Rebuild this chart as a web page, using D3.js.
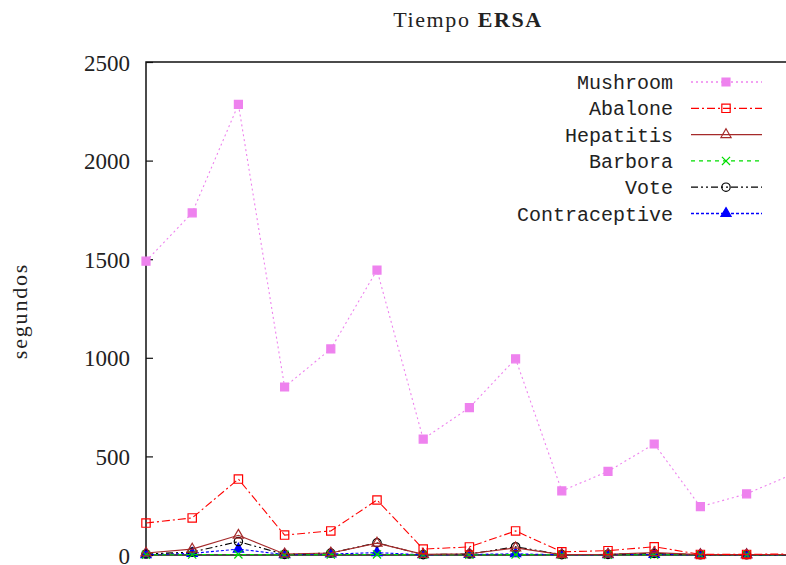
<!DOCTYPE html>
<html>
<head>
<meta charset="utf-8">
<script src="https://cdn.jsdelivr.net/npm/d3@7"></script>
<style>
  body { margin: 0; background: #fff; }
  svg { display: block; }
  .tick-label { font-family: "Liberation Serif", serif; font-size: 23px; fill: #222; }
  .legend-label { font-family: "Liberation Mono", monospace; font-size: 20px; fill: #222; }
</style>
</head>
<body>
<div id="chart"></div>
<script>
var series = ["Mushroom", "Abalone", "Hepatitis", "Barbora", "Vote", "Contraceptive"];
var yTicks = [0, 500, 1000, 1500, 2000, 2500];

var mushroom      = [1490, 1735, 2285, 852, 1045, 1445, 588, 747, 995, 325, 424, 563, 245, 310, 410];
var abalone       = [162, 188, 385, 101, 122, 279, 30, 41, 122, 16, 22, 42, 3, 3, 6];
var hepatitis     = [10, 30, 100, 5, 10, 60, 3, 6, 36, 2, 4, 12, 2, 2, 3];
var barbora       = [1, 2, 3, 1, 2, 3, 1, 1, 2, 1, 1, 1, 1, 1, 1];
var vote          = [5, 15, 68, 3, 10, 62, 2, 5, 42, 2, 3, 8, 1, 1, 2];
var contraceptive = [2, 8, 30, 2, 5, 12, 1, 3, 6, 1, 2, 3, 1, 1, 1];

var values = [mushroom, abalone, hepatitis, barbora, vote, contraceptive];

var styles = [
  { color: "#ee82ee", dash: "2,3",          symbol: d3.symbolSquare,   size: 64, fill: true },
  { color: "#ff0000", dash: "8,3,2,3",      symbol: d3.symbolSquare,   size: 70, fill: false },
  { color: "#a52a2a", dash: null,           symbol: d3.symbolTriangle, size: 45, fill: false },
  { color: "#00dd00", dash: "4,4",          symbol: d3.symbolTimes,    size: 45, fill: false },
  { color: "#000000", dash: "7,3,2,3,2,3",  symbol: d3.symbolCircle,   size: 55, fill: false },
  { color: "#0000ff", dash: "3,2",          symbol: d3.symbolTriangle, size: 45, fill: true }
];

var fullwidth = 786;
var fullheight = 565;

var svg = d3.select("#chart")
  .append("svg")
  .attr("width", fullwidth)
  .attr("height", fullheight);

var xScale = d3.scaleLinear()
  .domain([0, mushroom.length - 1])
  .range([146, 146 + 46.2 * (mushroom.length - 1)]);

var yScale = d3.scaleLinear()
  .domain([0, 2500])
  .range([555, 62]);

// frame
var plotRight = xScale(mushroom.length - 1) + 30;
svg.append("rect")
  .attr("x", 146).attr("y", 62)
  .attr("width", plotRight - 146).attr("height", 555 - 62)
  .attr("fill", "none")
  .attr("stroke", "#111")
  .attr("stroke-width", 1.5);

// y axis ticks inward
var yAxis = d3.axisLeft(yScale)
  .tickValues(yTicks)
  .tickSize(-7)
  .tickPadding(16)
  .tickFormat(d3.format("d"));

var gy = svg.append("g")
  .attr("transform", "translate(146,0)")
  .call(yAxis);
gy.select(".domain").remove();
gy.selectAll("line").attr("stroke", "#111").attr("stroke-width", 1.2);
gy.selectAll("text")
  .attr("class", "tick-label")
  .attr("dy", "0.35em");

// title
var title = svg.append("text")
  .attr("x", 468)
  .attr("y", 27)
  .attr("text-anchor", "middle")
  .style("font-family", "'Liberation Serif', serif")
  .style("font-size", "22px")
  .style("letter-spacing", "1.6px")
  .style("fill", "#222");
title.append("tspan").text("Tiempo ");
title.append("tspan").attr("font-weight", "bold").text("ERSA");

// y label
svg.append("text")
  .attr("transform", "translate(27,311) rotate(-90)")
  .attr("text-anchor", "middle")
  .style("font-family", "'Liberation Serif', serif")
  .style("font-size", "22px")
  .style("letter-spacing", "1.8px")
  .style("fill", "#222")
  .text("segundos");

var line = d3.line()
  .x(function(d, i) { return xScale(i); })
  .y(function(d) { return yScale(d); });

function marker(sel, st) {
  sel.attr("d", d3.symbol().type(st.symbol).size(st.size))
    .attr("fill", st.fill ? st.color : "none")
    .attr("stroke", st.color)
    .attr("stroke-width", 1.2);
}

// draw series, last first so Mushroom is on top
for (var s = values.length - 1; s >= 0; s--) {
  var st = styles[s];
  var g = svg.append("g");
  g.append("path")
    .datum(values[s])
    .attr("d", line)
    .attr("fill", "none")
    .attr("stroke", st.color)
    .attr("stroke-width", 1.1)
    .attr("stroke-dasharray", st.dash);
  g.selectAll("path.pt")
    .data(values[s])
    .enter()
    .append("path")
    .attr("class", "pt")
    .attr("transform", function(d, i) {
      return "translate(" + xScale(i) + "," + yScale(d) + ")";
    })
    .call(marker, st);
}

// legend
var legend = svg.append("g");
series.forEach(function(name, i) {
  var st = styles[i];
  var y = 82 + i * 26.3;
  legend.append("text")
    .attr("class", "legend-label")
    .attr("x", 673)
    .attr("y", y)
    .attr("dy", "0.35em")
    .attr("text-anchor", "end")
    .text(name);
  legend.append("line")
    .attr("x1", 691).attr("x2", 762)
    .attr("y1", y).attr("y2", y)
    .attr("stroke", st.color)
    .attr("stroke-width", 1.3)
    .attr("stroke-dasharray", st.dash);
  legend.append("path")
    .attr("transform", "translate(726," + y + ")")
    .call(marker, st);
});
</script>
</body>
</html>
